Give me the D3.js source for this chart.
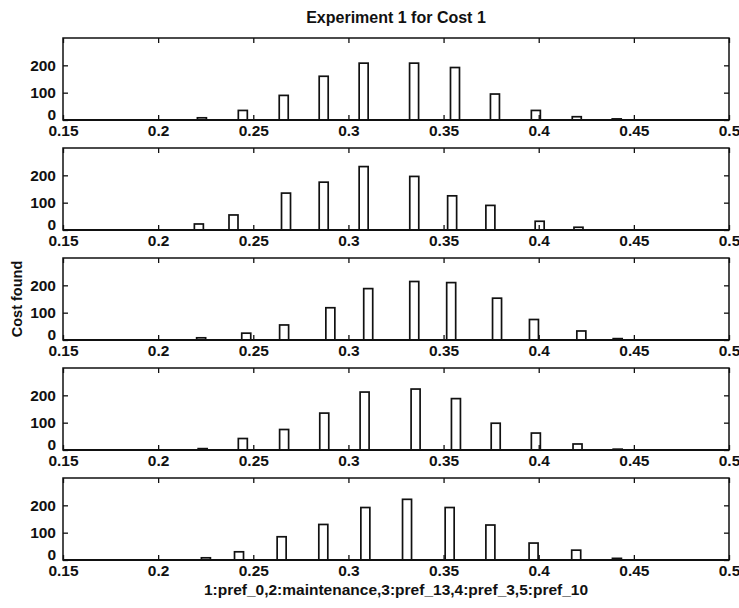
<!DOCTYPE html>
<html>
<head>
<meta charset="utf-8">
<script src="https://cdn.jsdelivr.net/npm/d3@7"></script>
<style>
  body { margin: 0; background: #fff; }
  text { font-family: "Liberation Sans", Arial, sans-serif; font-weight: bold; fill: #111; }
</style>
</head>
<body>
<svg width="739" height="608"></svg>
<script>
// bin centres and counts
const x1 = [0.223, 0.2445, 0.266, 0.287, 0.308, 0.3345, 0.356, 0.377, 0.3985, 0.42, 0.441];
const y1 = [8, 35, 90, 160, 208, 208, 192, 95, 35, 12, 4];
const x2 = [0.2214, 0.2396, 0.2672, 0.287, 0.308, 0.3346, 0.3545, 0.3746, 0.4005, 0.4209];
const y2 = [22, 55, 135, 175, 232, 196, 125, 90, 32, 10];
const x3 = [0.2226, 0.2463, 0.2662, 0.2905, 0.3104, 0.3346, 0.354, 0.3781, 0.3975, 0.4224, 0.4415];
const y3 = [8, 25, 55, 118, 188, 214, 210, 153, 75, 33, 5];
const x4 = [0.2234, 0.2445, 0.2662, 0.2873, 0.3085, 0.3353, 0.3565, 0.3774, 0.3985, 0.4204, 0.4415];
const y4 = [5, 42, 75, 135, 212, 223, 188, 98, 62, 22, 3];
const x5 = [0.2251, 0.2425, 0.2649, 0.2868, 0.3089, 0.3308, 0.3532, 0.3746, 0.3973, 0.4197, 0.4411];
const y5 = [8, 30, 85, 130, 192, 222, 192, 128, 62, 36, 6];

const xTicks = [0.15, 0.2, 0.25, 0.3, 0.35, 0.4, 0.45, 0.5];
const yTicks = [0, 100, 200];
const title = "Experiment 1 for Cost 1";
const yLabel = "Cost found";
const xLabel = "1:pref_0,2:maintenance,3:pref_13,4:pref_3,5:pref_10";

const panels = [[x1, y1], [x2, y2], [x3, y3], [x4, y4], [x5, y5]];

const svg = d3.select("svg");
const left = 63, right = 729, top0 = 38, h = 82, step = 110;
const barW = 9;
const fs = 15.5;

const x = d3.scaleLinear().domain([0.15, 0.5]).range([left, right]);

panels.forEach(([xs, ys], i) => {
  const top = top0 + i * step;
  const y = d3.scaleLinear().domain([0, 300]).range([top + h, top]);
  const g = svg.append("g");

  g.selectAll("rect.bar")
    .data(xs.map((v, j) => ({ x: v, y: ys[j] })))
    .join("rect")
    .attr("class", "bar")
    .attr("x", d => x(d.x) - barW / 2)
    .attr("y", d => y(d.y))
    .attr("width", barW)
    .attr("height", d => y(0) - y(d.y))
    .attr("fill", "none")
    .attr("stroke", "#111")
    .attr("stroke-width", 1.7);

  // bottom axis (ticks inside) with labels
  const bottom = g.append("g").attr("transform", `translate(0,${top + h})`)
    .call(d3.axisBottom(x).tickValues(xTicks).tickSizeInner(-5).tickSizeOuter(0)
      .tickPadding(6).tickFormat(d3.format("")));
  bottom.select(".domain").remove();
  bottom.selectAll("line").attr("stroke", "#111").attr("stroke-width", 1.3);
  bottom.selectAll("text").attr("font-size", fs).attr("dy", "0.62em");

  // top ticks
  const topAx = g.append("g").attr("transform", `translate(0,${top})`)
    .call(d3.axisTop(x).tickValues(xTicks).tickSizeInner(-5).tickSizeOuter(0).tickFormat(""));
  topAx.select(".domain").remove();
  topAx.selectAll("line").attr("stroke", "#111").attr("stroke-width", 1.3);

  const leftAx = g.append("g").attr("transform", `translate(${left},0)`)
    .call(d3.axisLeft(y).tickValues(yTicks).tickSizeInner(-5).tickSizeOuter(0).tickPadding(7));
  leftAx.select(".domain").remove();
  leftAx.selectAll("line").attr("stroke", "#111").attr("stroke-width", 1.3);
  leftAx.selectAll("text").attr("font-size", fs)
    .attr("dy", d => d === 0 ? "-0.05em" : "0.32em");

  const rightAx = g.append("g").attr("transform", `translate(${right},0)`)
    .call(d3.axisRight(y).tickValues(yTicks).tickSizeInner(-5).tickSizeOuter(0).tickFormat(""));
  rightAx.select(".domain").remove();
  rightAx.selectAll("line").attr("stroke", "#111").attr("stroke-width", 1.3);

  // box
  g.append("rect")
    .attr("x", left).attr("y", top)
    .attr("width", right - left).attr("height", h)
    .attr("fill", "none").attr("stroke", "#111").attr("stroke-width", 1.5);
  // heavy baseline
  g.append("line")
    .attr("x1", left).attr("x2", right)
    .attr("y1", y(0)).attr("y2", y(0))
    .attr("stroke", "#111").attr("stroke-width", 2.2);
});

svg.append("text")
  .attr("x", (left + right) / 2).attr("y", 23)
  .attr("text-anchor", "middle").attr("font-size", 16)
  .text(title);

svg.append("text")
  .attr("transform", `translate(22,${top0 + 2 * step + h / 2}) rotate(-90)`)
  .attr("text-anchor", "middle").attr("font-size", 14.5)
  .text(yLabel);

svg.append("text")
  .attr("x", (left + right) / 2).attr("y", 595)
  .attr("text-anchor", "middle").attr("font-size", fs)
  .text(xLabel);
</script>
</body>
</html>
